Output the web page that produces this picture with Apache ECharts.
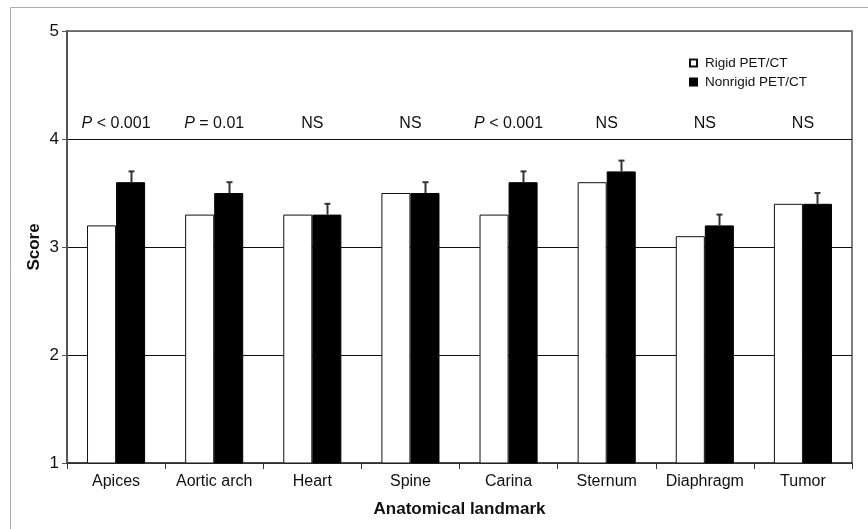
<!DOCTYPE html>
<html>
<head>
<meta charset="utf-8">
<script src="https://cdn.jsdelivr.net/npm/echarts@6/dist/echarts.min.js"></script>
<style>
  html, body { margin: 0; padding: 0; background: #fff; }
  #chart { width: 868px; height: 529px; }
</style>
</head>
<body>
<div id="chart"></div>
<script>
var categories = ['Apices', 'Aortic arch', 'Heart', 'Spine', 'Carina', 'Sternum', 'Diaphragm', 'Tumor'];
var rigidValues = [3.2, 3.3, 3.3, 3.5, 3.3, 3.6, 3.1, 3.4];
var nonrigidValues = [3.6, 3.5, 3.3, 3.5, 3.6, 3.7, 3.2, 3.4];
var nonrigidErrors = [0.1, 0.1, 0.1, 0.1, 0.1, 0.1, 0.1, 0.1];
var pLabels = ['P < 0.001', 'P = 0.01', 'NS', 'NS', 'P < 0.001', 'NS', 'NS', 'NS'];
var yTicks = [1, 2, 3, 4, 5];

var FONT = '"Liberation Sans", Arial, Helvetica, sans-serif';
var BAR_FRAC = 0.296;

var chart = echarts.init(document.getElementById('chart'));

function fmtLabel(t) {
    // italic P for the p-values
    if (t.charAt(0) === 'P') return '{i|P}' + t.slice(1);
    return t;
}

var option = {
    animation: false,
    textStyle: { fontFamily: FONT },
    graphic: [{
        type: 'rect',
        silent: true,
        shape: { x: 10.5, y: 7.5, width: 900, height: 600 },
        style: { fill: 'none', stroke: '#aaa', lineWidth: 1 }
    }],
    legend: {
        data: ['Rigid PET/CT', 'Nonrigid PET/CT'],
        orient: 'vertical',
        left: 684,
        top: 51,
        itemWidth: 7,
        itemHeight: 7,
        itemGap: 5,
        icon: 'rect',
        textStyle: { fontFamily: FONT, fontSize: 13.5, color: '#111', padding: [0, 0, 0, 3] }
    },
    grid: {
        left: 67,
        right: 16,
        top: 31,
        bottom: 66,
        show: true,
        borderColor: '#555',
        borderWidth: 1.5,
        backgroundColor: 'transparent'
    },
    xAxis: {
        type: 'category',
        data: categories,
        boundaryGap: true,
        name: 'Anatomical landmark',
        nameLocation: 'middle',
        nameGap: 38,
        nameMoveOverlap: false,
        nameTextStyle: { fontFamily: FONT, fontSize: 17, fontWeight: 'bold', color: '#111' },
        axisLine: { lineStyle: { color: '#333', width: 1.5 } },
        axisTick: { show: true, interval: 0, length: 6, lineStyle: { color: '#333', width: 1 } },
        axisLabel: { interval: 0, hideOverlap: false, fontFamily: FONT, fontSize: 16, color: '#111', margin: 11 },
        splitLine: { show: false }
    },
    yAxis: {
        type: 'value',
        min: 1,
        max: 5,
        interval: 1,
        name: 'Score',
        nameLocation: 'middle',
        nameGap: 24,
        nameMoveOverlap: false,
        nameTextStyle: { fontFamily: FONT, fontSize: 17, fontWeight: 'bold', color: '#111' },
        axisLine: { show: true, lineStyle: { color: '#555', width: 2 } },
        axisTick: { show: true, length: 5, lineStyle: { color: '#555', width: 1 } },
        axisLabel: {
            fontFamily: FONT, fontSize: 17, color: '#111', margin: 8,
            formatter: function (v) { return yTicks.indexOf(v) >= 0 ? String(v) : ''; }
        },
        splitLine: { show: true, lineStyle: { color: ['#333', '#111', '#111', '#111', '#666'], width: 1.2 } }
    },
    series: [
        {
            name: 'Rigid PET/CT',
            type: 'bar',
            data: rigidValues,
            barWidth: (BAR_FRAC * 100) + '%',
            barGap: '0%',
            itemStyle: { color: '#fff', borderColor: '#111', borderWidth: 1 },
            z: 3
        },
        {
            name: 'Nonrigid PET/CT',
            type: 'bar',
            data: nonrigidValues,
            barWidth: (BAR_FRAC * 100) + '%',
            barGap: '0%',
            itemStyle: { color: '#000', borderColor: '#000', borderWidth: 1 },
            z: 3
        },
        {
            name: 'error',
            type: 'custom',
            z: 4,
            data: nonrigidValues.map(function (v, i) { return [i, v, v + nonrigidErrors[i]]; }),
            renderItem: function (params, api) {
                var i = api.value(0);
                var catW = api.size([1, 0])[0];
                var base = api.coord([i, api.value(1)]);
                var top = api.coord([i, api.value(2)]);
                var x = Math.round(base[0] + catW * BAR_FRAC / 2) + 0.5;
                return {
                    type: 'group',
                    children: [
                        { type: 'line', shape: { x1: x, y1: base[1], x2: x, y2: top[1] },
                          style: { stroke: '#333', lineWidth: 2 } },
                        { type: 'line', shape: { x1: x - 3, y1: top[1], x2: x + 3, y2: top[1] },
                          style: { stroke: '#333', lineWidth: 2 } }
                    ]
                };
            }
        },
        {
            name: 'pvalues',
            type: 'custom',
            z: 5,
            data: pLabels.map(function (t, i) { return [i, 4.14]; }),
            renderItem: function (params, api) {
                var p = api.coord([api.value(0), api.value(1)]);
                return {
                    type: 'text',
                    x: p[0],
                    y: p[1],
                    style: {
                        text: fmtLabel(pLabels[params.dataIndex]),
                        fill: '#111',
                        font: '16px ' + FONT,
                        align: 'center',
                        verticalAlign: 'middle',
                        rich: { i: { fontStyle: 'italic', fontSize: 16, fontFamily: FONT, fill: '#111' } }
                    }
                };
            }
        }
    ]
};

chart.setOption(option);
</script>
</body>
</html>
